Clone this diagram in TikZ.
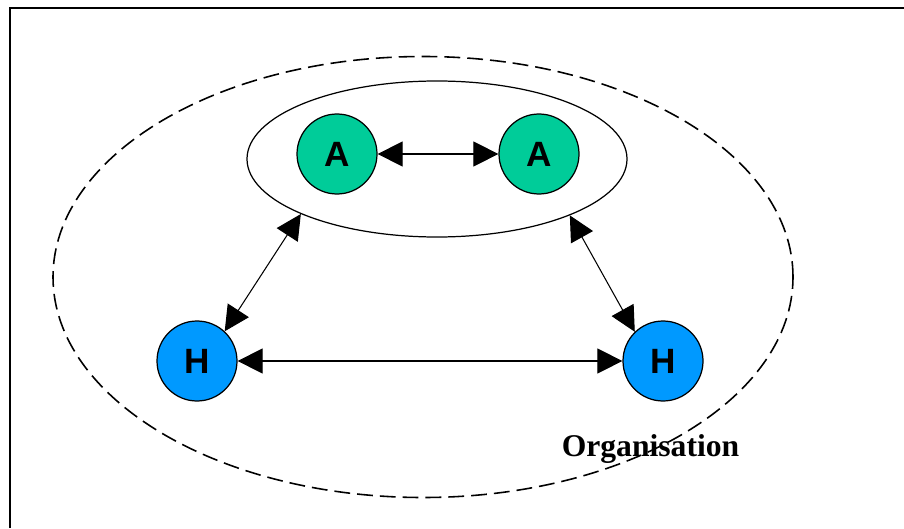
\documentclass[tikz,border=0pt]{standalone}
\usepackage{fontspec}
\setmainfont{Liberation Serif}
\newfontfamily\arialfont{Liberation Sans}
\usepackage{xcolor}
\usetikzlibrary{arrows.meta,shapes,positioning}
\definecolor{acol}{RGB}{0,204,153}
\definecolor{hcol}{RGB}{0,153,255}

\begin{document}
\begin{tikzpicture}[
  agent/.style={circle,draw,line width=0.7pt,minimum size=1.6cm,inner sep=0pt,font=\arialfont\bfseries\fontsize{20}{24}\selectfont},
  link/.style={{Triangle[length=0.5cm,width=0.5cm]}-{Triangle[length=0.5cm,width=0.5cm]},line width=0.6pt}]
\useasboundingbox (0,0) rectangle (18.08,10.56);
\draw[line width=1pt] (0.2,0) -- (0.2,10.4) -- (18.08,10.4);
\draw[line width=0.9pt,dash pattern=on 9pt off 4pt] (8.46,5.02) ellipse (7.4 and 4.41);
\node[ellipse,draw,line width=0.7pt,minimum width=7.6cm,minimum height=3.12cm] (grp) at (8.74,7.38) {};
\node[agent,fill=acol] (a1) at (6.74,7.48) {A};
\node[agent,fill=acol] (a2) at (10.78,7.48) {A};
\node[agent,fill=hcol] (h1) at (3.94,3.34) {H};
\node[agent,fill=hcol] (h2) at (13.26,3.34) {H};
\node[anchor=base,font=\bfseries\fontsize{18}{22}\selectfont] (org) at (13.01,1.44) {Organisation};
\draw[link] (a1) -- (a2);
\draw[link] (h1) -- (h2);
\draw[link] (grp.202.5) -- (h1.47);
\draw[link] (grp.337) -- (h2.134);
\end{tikzpicture}
\end{document}
